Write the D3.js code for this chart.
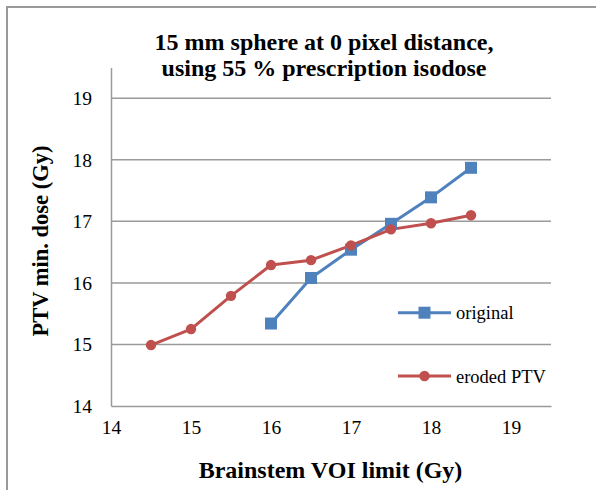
<!DOCTYPE html>
<html>
<head>
<meta charset="utf-8">
<script src="https://cdn.jsdelivr.net/npm/d3@7"></script>
<style>
  html, body { margin: 0; padding: 0; background: #fff; }
  svg { display: block; font-family: "Liberation Serif", "Times New Roman", serif; }
</style>
</head>
<body>
<svg id="chart" width="596" height="490"></svg>
<script>
// Brainstem VOI limit (Gy) for each series
const originalX = [16, 16.5, 17, 17.5, 18, 18.5];
const originalY = [15.34, 16.08, 16.54, 16.96, 17.39, 17.87];

const erodedX = [14.5, 15, 15.5, 16, 16.5, 17, 17.5, 18, 18.5];
const erodedY = [14.99, 15.25, 15.79, 16.29, 16.37, 16.61, 16.87, 16.97, 17.1];

const xTicks = [14, 15, 16, 17, 18, 19];
const yTicks = [14, 15, 16, 17, 18, 19];

const seriesNames = ["original", "eroded PTV"];
const titleLines = ["15 mm sphere at 0 pixel distance,", "using 55 % prescription isodose"];

const svg = d3.select("#chart");
const gray = "#9a9a9a";
const blue = "#4f81bd";
const red = "#c0504d";
const serif = "Liberation Serif, Times New Roman, serif";

// outer chart frame
svg.append("rect")
  .attr("x", 7).attr("y", 7).attr("width", 620).attr("height", 520)
  .attr("fill", "none").attr("stroke", gray).attr("stroke-width", 2);

const plot = { left: 111, right: 551, top: 67.5, bottom: 406 };

const x = d3.scaleLinear().domain([14, 19.5]).range([plot.left, plot.right]);
const y = d3.scaleLinear().domain([14, 19.5]).range([plot.bottom, plot.top]);

// horizontal gridlines
svg.append("g")
  .selectAll("line")
  .data(yTicks.filter(d => d > 14))
  .join("line")
  .attr("x1", plot.left).attr("x2", plot.right)
  .attr("y1", d => y(d)).attr("y2", d => y(d))
  .attr("stroke", gray).attr("stroke-width", 1.5);

// axes
const xAxis = svg.append("g")
  .attr("transform", `translate(0,${plot.bottom})`)
  .call(d3.axisBottom(x).tickValues(xTicks).tickSize(0).tickPadding(14).tickFormat(d3.format("d")));
xAxis.select(".domain").attr("stroke", gray).attr("stroke-width", 1.5);
xAxis.selectAll("text").attr("font-size", 19.5).attr("fill", "#000").attr("font-family", serif);

const yAxis = svg.append("g")
  .attr("transform", `translate(${plot.left},0)`)
  .call(d3.axisLeft(y).tickValues(yTicks).tickSize(0).tickPadding(19).tickFormat(d3.format("d")));
yAxis.select(".domain").attr("stroke", gray).attr("stroke-width", 1.5);
yAxis.selectAll("text").attr("font-size", 19.5).attr("fill", "#000").attr("font-family", serif);

// series
const original = originalX.map((v, i) => [v, originalY[i]]);
const eroded = erodedX.map((v, i) => [v, erodedY[i]]);
const line = d3.line().x(d => x(d[0])).y(d => y(d[1]));

svg.append("path").datum(original)
  .attr("d", line).attr("fill", "none").attr("stroke", blue).attr("stroke-width", 3)
  .attr("stroke-linejoin", "round");
svg.append("path").datum(eroded)
  .attr("d", line).attr("fill", "none").attr("stroke", red).attr("stroke-width", 3)
  .attr("stroke-linejoin", "round");

const sq = 12;
svg.append("g").selectAll("rect").data(original).join("rect")
  .attr("x", d => x(d[0]) - sq / 2).attr("y", d => y(d[1]) - sq / 2)
  .attr("width", sq).attr("height", sq).attr("fill", blue);

svg.append("g").selectAll("circle").data(eroded).join("circle")
  .attr("cx", d => x(d[0])).attr("cy", d => y(d[1])).attr("r", 5.2).attr("fill", red);

// legend
const legend = svg.append("g");
const legendRows = [
  { name: seriesNames[0], color: blue, shape: "square", cy: 312.7 },
  { name: seriesNames[1], color: red, shape: "circle", cy: 376 }
];
legendRows.forEach(r => {
  legend.append("line").attr("x1", 398).attr("x2", 451)
    .attr("y1", r.cy).attr("y2", r.cy).attr("stroke", r.color).attr("stroke-width", 3);
  if (r.shape === "square") {
    legend.append("rect").attr("x", 424.5 - sq / 2).attr("y", r.cy - sq / 2)
      .attr("width", sq).attr("height", sq).attr("fill", r.color);
  } else {
    legend.append("circle").attr("cx", 424.5).attr("cy", r.cy).attr("r", 5.2).attr("fill", r.color);
  }
  legend.append("text").attr("x", 456).attr("y", r.cy + 6.5)
    .attr("font-size", 18.5).attr("fill", "#000").text(r.name);
});

// title
svg.append("text")
  .attr("text-anchor", "middle").attr("font-weight", "bold").attr("font-size", 24)
  .selectAll("tspan").data(titleLines).join("tspan")
  .attr("x", 324).attr("y", (d, i) => 49.5 + i * 26.5).text(d => d);

// axis titles
svg.append("text")
  .attr("transform", "translate(48,241) rotate(-90)")
  .attr("text-anchor", "middle").attr("font-weight", "bold").attr("font-size", 22.5)
  .text("PTV min. dose (Gy)");

svg.append("text")
  .attr("x", 330.5).attr("y", 478)
  .attr("text-anchor", "middle").attr("font-weight", "bold").attr("font-size", 24)
  .text("Brainstem VOI limit (Gy)");
</script>
</body>
</html>
